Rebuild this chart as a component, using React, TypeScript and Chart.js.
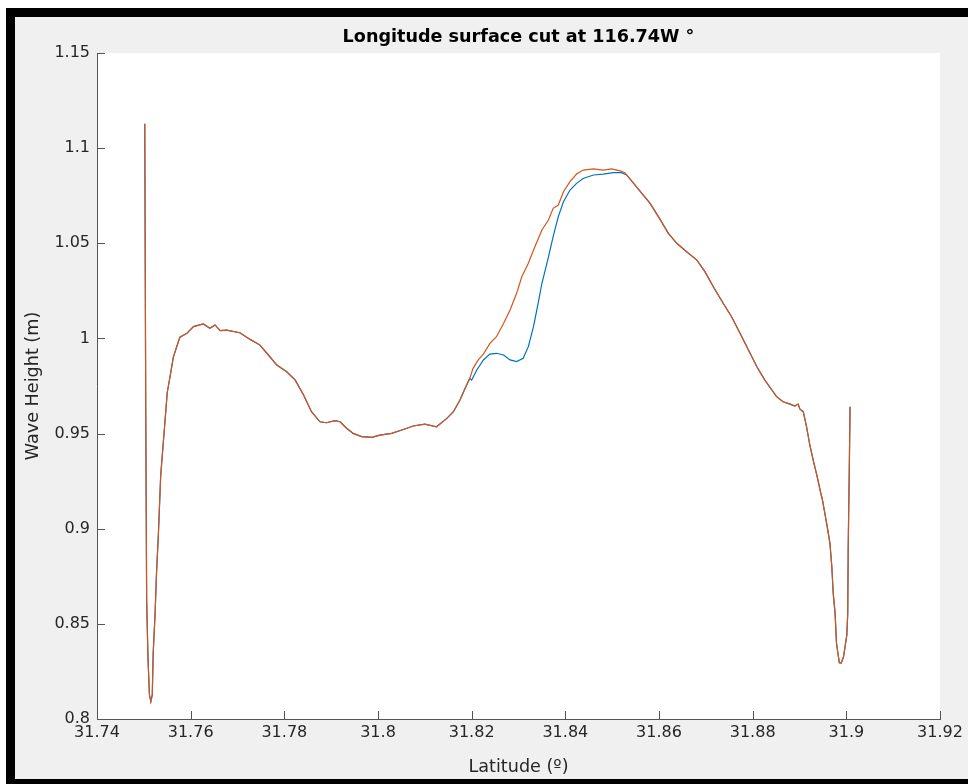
import React, { useEffect, useRef } from "react";
import { Chart, registerables } from "chart.js";

Chart.register(...registerables);

// ---- tick values / labels ----
const xTickValues = [31.74, 31.76, 31.78, 31.8, 31.82, 31.84, 31.86, 31.88, 31.9, 31.92];
const xTickLabels = ["31.74", "31.76", "31.78", "31.8", "31.82", "31.84", "31.86", "31.88", "31.9", "31.92"];
const yTickValues = [0.8, 0.85, 0.9, 0.95, 1, 1.05, 1.1, 1.15];
const yTickLabels = ["0.8", "0.85", "0.9", "0.95", "1", "1.05", "1.1", "1.15"];

// ---- shared part (west of the split) ----
const latLeft = [
  31.7502, 31.7504, 31.7506, 31.7509, 31.7512, 31.7515, 31.7518, 31.752, 31.7524, 31.7527,
  31.7531, 31.7536, 31.7542, 31.755, 31.7556, 31.7563, 31.757, 31.7577, 31.7592, 31.7606,
  31.7627, 31.7641, 31.7652, 31.7663, 31.7677, 31.7705, 31.7727, 31.7748, 31.7766, 31.7784,
  31.7805, 31.7823, 31.7841, 31.7858, 31.7876, 31.789, 31.7908, 31.7919, 31.7933, 31.7947,
  31.7965, 31.7987, 31.8004, 31.8029, 31.8051, 31.8075, 31.81, 31.8125, 31.8147, 31.8161,
  31.8175, 31.8186, 31.8196,
];
const waveLeft = [
  1.1128, 0.9676, 0.8625, 0.831, 0.8126, 0.8091, 0.8126, 0.8347, 0.8552, 0.8762,
  0.8967, 0.928, 0.9466, 0.9716, 0.9799, 0.9902, 0.9955, 1.0007, 1.0027, 1.0062,
  1.0076, 1.0053, 1.0071, 1.0041, 1.0044, 1.003, 0.9995, 0.9965, 0.9913, 0.986,
  0.9825, 0.9782, 0.9703, 0.9615, 0.9562, 0.9557, 0.9568, 0.9562, 0.9528, 0.9501,
  0.9484, 0.948, 0.9492, 0.9501, 0.9519, 0.954, 0.955, 0.9536, 0.958, 0.9615,
  0.9676, 0.9738, 0.979,
];

// ---- orange (second run) between the split ----
const latRiseOrange = [
  31.8203, 31.8214, 31.8225, 31.8239, 31.8253, 31.8268, 31.8282, 31.8296, 31.8307, 31.8321,
  31.8335, 31.835, 31.8364, 31.8374, 31.8385, 31.8396, 31.841, 31.8424, 31.8438, 31.846,
  31.8481, 31.8499, 31.8517, 31.8527,
];
const waveRiseOrange = [
  0.9843, 0.9887, 0.9918, 0.9974, 1.0009, 1.0079, 1.0149, 1.0237, 1.0324, 1.0395,
  1.0482, 1.057, 1.0622, 1.0684, 1.0701, 1.0771, 1.0824, 1.0864, 1.0885, 1.0891,
  1.0885, 1.0891, 1.0881, 1.0871,
];

// ---- blue (first run) between the split ----
const latRiseBlue = [
  31.82, 31.8211, 31.8225, 31.8239, 31.8253, 31.8268, 31.8282, 31.8296, 31.831, 31.8321,
  31.8332, 31.8342, 31.835, 31.8364, 31.8374, 31.8385, 31.8396, 31.841, 31.8424, 31.8438,
  31.846, 31.8481, 31.8502, 31.852, 31.8531,
];
const waveRiseBlue = [
  0.9781, 0.9834, 0.9887, 0.9918, 0.9922, 0.9913, 0.9887, 0.9878, 0.9896, 0.9957,
  1.0062, 1.0185, 1.029, 1.0429, 1.0535, 1.064, 1.0718, 1.078, 1.0815, 1.0841,
  1.0859, 1.0864, 1.0871, 1.0871, 1.0859,
];

// ---- shared part (east of the split) ----
const latRight = [
  31.8552, 31.8581, 31.8602, 31.862, 31.8638, 31.8659, 31.8681, 31.8698, 31.8716, 31.8737,
  31.8755, 31.8773, 31.8791, 31.8809, 31.8826, 31.8841, 31.8851, 31.8865, 31.888, 31.889,
  31.8897, 31.8901, 31.8908, 31.8915, 31.8922, 31.893, 31.8937, 31.8944, 31.8949, 31.8958,
  31.8965, 31.8969, 31.8972, 31.8976, 31.8979, 31.8985, 31.8989, 31.8994, 31.9001, 31.9003,
  31.9004, 31.9006, 31.9008,
];
const waveRight = [
  1.0797, 1.071, 1.0627, 1.0552, 1.05, 1.0456, 1.0412, 1.0351, 1.0272, 1.0185,
  1.0114, 1.0027, 0.9939, 0.9851, 0.9781, 0.9729, 0.9694, 0.9667, 0.9655, 0.9645,
  0.9655, 0.9628, 0.9615, 0.9536, 0.944, 0.9352, 0.9282, 0.9203, 0.9151, 0.9028,
  0.8923, 0.88, 0.8661, 0.8555, 0.8398, 0.8296, 0.8294, 0.8327, 0.8441, 0.8555,
  0.8905, 0.9256, 0.9641,
];

const AXIS_COLOR = "#555555";
const TEXT_COLOR = "#262626";
const FONT = "'DejaVu Sans', sans-serif";

function toPoints(lat: number[], wave: number[]) {
  return lat.map((x, i) => ({ x, y: wave[i] }));
}

const matlabAxes = {
  id: "matlabAxes",
  beforeDraw(chart: any) {
    const { ctx, chartArea: a } = chart;
    ctx.save();
    ctx.fillStyle = "#ffffff";
    ctx.fillRect(a.left, a.top, a.right - a.left, a.bottom - a.top);
    ctx.restore();
  },
  afterDatasetsDraw(chart: any) {
    const { ctx, chartArea: a, scales } = chart;
    const tl = 8;
    ctx.save();
    ctx.strokeStyle = AXIS_COLOR;
    ctx.lineWidth = 1;
    ctx.beginPath();
    for (const v of xTickValues) {
      const px = Math.round(scales.x.getPixelForValue(v)) + 0.5;
      ctx.moveTo(px, a.bottom);
      ctx.lineTo(px, a.bottom - tl);
    }
    for (const v of yTickValues) {
      const py = Math.round(scales.y.getPixelForValue(v)) + 0.5;
      ctx.moveTo(a.left, py);
      ctx.lineTo(a.left + tl, py);
    }
    ctx.stroke();
    ctx.restore();
  },
};

export default function App() {
  const canvasRef = useRef<HTMLCanvasElement | null>(null);

  useEffect(() => {
    const canvas = canvasRef.current;
    if (!canvas) return;
    const blue = [
      ...toPoints(latLeft, waveLeft),
      ...toPoints(latRiseBlue, waveRiseBlue),
      ...toPoints(latRight, waveRight),
    ];
    const orange = [
      ...toPoints(latLeft, waveLeft),
      ...toPoints(latRiseOrange, waveRiseOrange),
      ...toPoints(latRight, waveRight),
    ];
    const chart = new Chart(canvas, {
      type: "line",
      data: {
        datasets: [
          {
            label: "run 1",
            data: blue,
            borderColor: "#0072BD",
            borderWidth: 1.2,
            pointRadius: 0,
            tension: 0,
            fill: false,
            order: 1,
          },
          {
            label: "run 2",
            data: orange,
            borderColor: "#D95319",
            borderWidth: 1.2,
            pointRadius: 0,
            tension: 0,
            fill: false,
            order: 0,
          },
        ],
      },
      options: {
        responsive: false,
        animation: false,
        devicePixelRatio: 1,
        layout: { padding: { left: 0, top: 0, right: 28, bottom: 0 } },
        plugins: {
          legend: { display: false },
          tooltip: { enabled: false },
          title: {
            display: true,
            fullSize: false,
            text: "Longitude surface cut at 116.74W °",
            color: "#000000",
            font: { family: FONT, size: 17.6, weight: "bold" },
            padding: { top: 27, bottom: 4.9 },
          },
        },
        scales: {
          x: {
            type: "linear",
            min: 31.74,
            max: 31.92,
            grid: { display: false, drawTicks: false },
            border: { display: true, color: AXIS_COLOR, width: 1 },
            afterBuildTicks: (scale: any) => {
              scale.ticks = xTickValues.map((value) => ({ value }));
            },
            afterFit: (scale: any) => {
              scale.height = 65;
            },
            ticks: {
              autoSkip: false,
              maxRotation: 0,
              minRotation: 0,
              padding: 4,
              color: TEXT_COLOR,
              font: { family: FONT, size: 16 },
              callback: (_v: any, i: number) => xTickLabels[i],
            },
            title: {
              display: true,
              text: "Latitude (º)",
              color: TEXT_COLOR,
              font: { family: FONT, size: 17.6 },
              padding: { top: 0, bottom: 6.4 },
            },
          },
          y: {
            type: "linear",
            min: 0.8,
            max: 1.15,
            grid: { display: false, drawTicks: false },
            border: { display: true, color: AXIS_COLOR, width: 1 },
            afterBuildTicks: (scale: any) => {
              scale.ticks = yTickValues.map((value) => ({ value }));
            },
            afterFit: (scale: any) => {
              scale.width = 97;
            },
            ticks: {
              autoSkip: false,
              padding: 7,
              color: TEXT_COLOR,
              font: { family: FONT, size: 16 },
              callback: (_v: any, i: number) => yTickLabels[i],
            },
            title: {
              display: true,
              text: "Wave Height (m)",
              color: TEXT_COLOR,
              font: { family: FONT, size: 17.6 },
              padding: { top: 22.4, bottom: 0 },
            },
          },
        },
      },
      plugins: [matlabAxes],
    });
    return () => chart.destroy();
  }, []);

  return (
    <div style={{ position: "fixed", left: 0, top: 0, width: 968, height: 784, background: "#ffffff", overflow: "hidden" }}>
      <div
        style={{
          position: "absolute",
          left: 6,
          top: 8,
          width: 1000,
          height: 780,
          boxSizing: "border-box",
          border: "9px solid #000000",
          borderRight: "none",
          background: "#f0f0f0",
        }}
      />
      <canvas
        ref={canvasRef}
        width={968}
        height={784}
        style={{ position: "absolute", left: 0, top: 0, width: 968, height: 784, display: "block" }}
      />
    </div>
  );
}
